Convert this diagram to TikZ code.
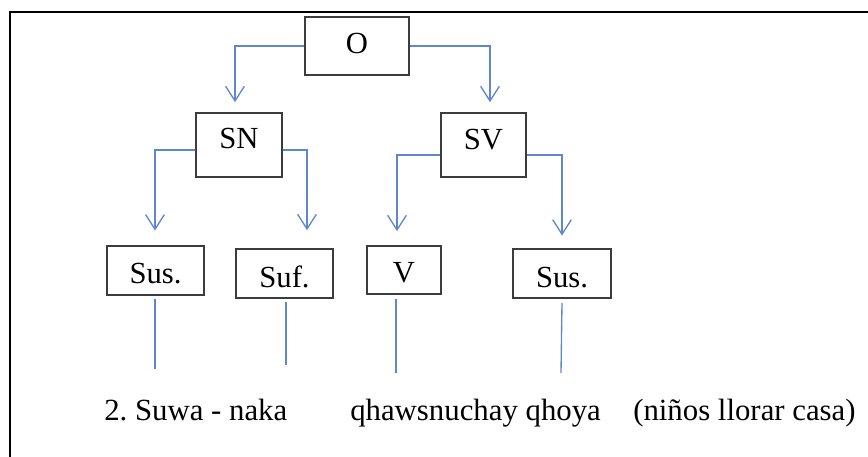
\documentclass[tikz,border=0pt]{standalone}
\usepackage{fontspec}
\setmainfont{Liberation Serif}
\usetikzlibrary{arrows.meta,calc}
\definecolor{linkblue}{RGB}{95,135,205}
\definecolor{boxgray}{RGB}{60,60,60}
\frenchspacing
\begin{document}
\begin{tikzpicture}[x=0.75pt,y=-0.75pt,
  box/.style 2 args={draw=boxgray, line width=1.2pt, fill=white, inner sep=0pt,
    minimum width=#1*0.75pt, minimum height=#2*0.75pt,
    font=\fontsize{23}{25}\selectfont, text height=14pt, text depth=0pt},
  link/.style={draw=linkblue, line width=1pt},
  arr/.style={link, -{Straight Barb[length=11pt,width=14pt]}},
  word/.style={anchor=base west, inner sep=0pt, font=\fontsize{23.1}{26}\selectfont}]
  \useasboundingbox (0,0) rectangle (868,457);
  % outer frame (right and bottom edges run off the page)
  \draw[line width=1.5pt] (10,12) rectangle (890,480);

  % phrase-structure boxes (text height sets where each label sits)
  \node[box={104}{58}, text height=10.5pt] (O)    at (357,46)      {O};
  \node[box={86}{64},  text height=5pt]    (SN)   at (239,145)     {SN};
  \node[box={85}{64},  text height=6pt]    (SV)   at (483.5,145)   {SV};
  \node[box={97}{49},  text height=19pt]   (Sus1) at (155.5,270.5) {Sus.};
  \node[box={97}{49},  text height=21.5pt] (Suf)  at (284.5,273.5) {Suf.};
  \node[box={74}{48},  text height=18pt]   (V)    at (404,270)     {V};
  \node[box={98}{49},  text height=21.5pt] (Sus2) at (562,273.5)   {Sus.};

  % branching arrows
  \draw[arr, shorten >=7.5pt] (O.west) -| ($(SN.north)+(-4,0)$);
  \draw[arr, shorten >=7.5pt] (O.east) -| ($(SV.north)+(6.5,0)$);
  \draw[arr, shorten >=11pt] ($(SN.west)+(0,5)$) -| ($(Sus1.north)+(-0.5,0)$);
  \draw[arr, shorten >=13.5pt] ($(SN.east)+(0,5)$) -| ($(Suf.north)+(22.5,0)$);
  \draw[arr, shorten >=10.5pt] ($(SV.west)+(0,10)$) -| ($(V.north)+(-7,0)$);
  \draw[arr, shorten >=9.5pt] ($(SV.east)+(0,10)$) -| (Sus2.north);

  % lines down to the words
  \coordinate (e1) at (155,369);
  \coordinate (e2) at (286,365);
  \coordinate (e3) at (396,373);
  \coordinate (e4) at (561,373);
  \draw[link] ($(Sus1.south)+(-0.5,3)$) -- (e1);
  \draw[link] ($(Suf.south)+(1.5,3)$) -- (e2);
  \draw[link] ($(V.south)+(-8,4)$) -- (e3);
  \draw[link] ($(Sus2.south)+(0,4)$) -- (e4);

  % example sentence
  \node[word] (w1) at (104,420) {2. Suwa - naka};
  \node[word] (w2) at (350,420) {qhawsnuchay qhoya};
  \node[word] (w3) at (633,420) {(niños llorar casa)};
\end{tikzpicture}
\end{document}
